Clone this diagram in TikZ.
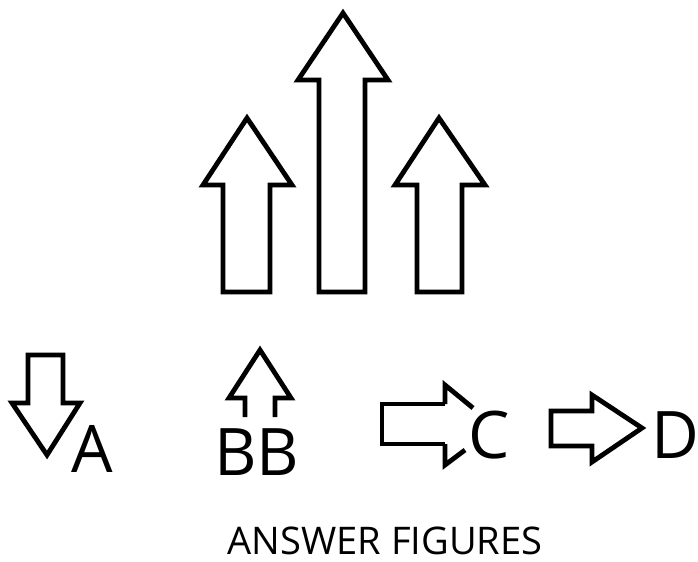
\documentclass[tikz,border=0pt]{standalone}
\usepackage{fontspec}
\setmainfont{Open Sans}
\begin{document}
\begin{tikzpicture}[x=0.03cm,y=-0.03cm,
    arrowline/.style={draw=black,line width=4.1pt,line join=miter,miter limit=10},
    biglabel/.style={font=\fontsize{56}{60}\selectfont,inner sep=0pt,anchor=base west}]
  \useasboundingbox (0,0) rectangle (698,562);

  % ── PROBLEM FIGURE ────────────────────────────────────
  \draw[arrowline] (223,292) -- (223,185) -- (203,185) -- (247,118)
    -- (292,185) -- (270,185) -- (270,292) -- cycle;
  \draw[arrowline] (319,292) -- (319,80) -- (298,80) -- (343,13)
    -- (388,80) -- (365,80) -- (365,292) -- cycle;
  \draw[arrowline] (417,292) -- (417,185) -- (395,185) -- (439,118)
    -- (485,185) -- (462,185) -- (462,292) -- cycle;

  % ── ANSWER FIGURES ────────────────────────────────────
  % A
  \draw[arrowline] (28,355) -- (63,355) -- (63,403) -- (80,403)
    -- (47,455) -- (12,403) -- (28,403) -- cycle;
  \node[biglabel] (labA) at (71,472) {A};
  % B
  \draw[arrowline] (245,417) -- (245,398) -- (229,398) -- (260,350)
    -- (291,398) -- (275,398) -- (275,417);
  \node[biglabel] (labB) at (214,475) {BB};
  % C
  \draw[arrowline] (445,404) -- (382,404) -- (382,444) -- (445,444);
  \draw[arrowline] (445,404) -- (445,385) -- (473,408);
  \draw[arrowline] (445,444) -- (445,465) -- (465,450);
  \node[biglabel] (labC) at (468,458) {C};
  % D
  \draw[arrowline] (592,411) -- (551,411) -- (551,446) -- (592,446)
    -- (592,462) -- (642,428) -- (592,395) -- cycle;
  \node[biglabel] (labD) at (651,458) {D};

  \node[font=\fontsize{32.5}{36}\selectfont,inner sep=0pt,anchor=base]
    (caption) at (385,554) {ANSWER FIGURES};

\end{tikzpicture}
\end{document}
